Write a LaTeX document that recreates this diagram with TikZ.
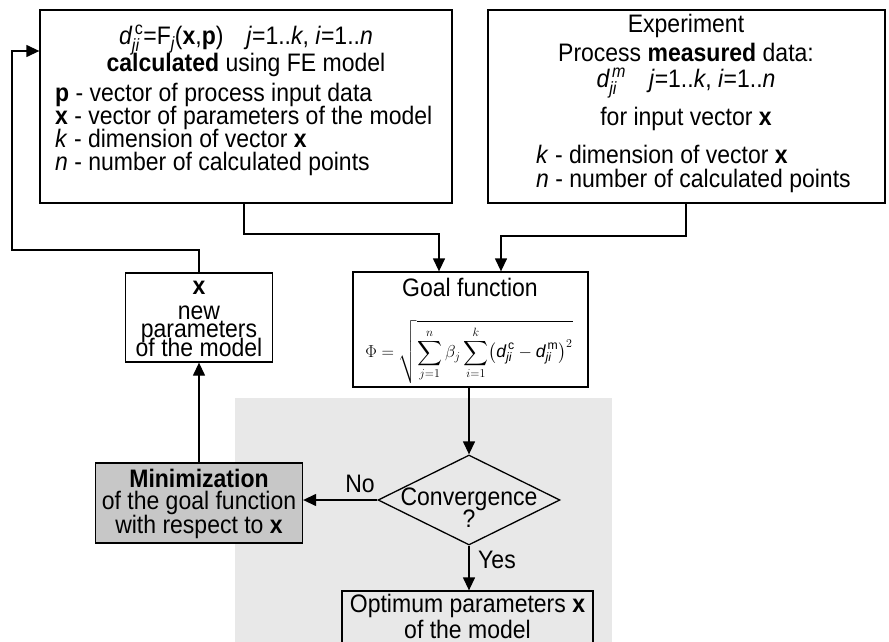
\documentclass[tikz,border=0pt]{standalone}
\usepackage{amsmath}
\usepackage{graphicx}
\usepackage{fontspec}
\setmainfont{Liberation Sans}
\usetikzlibrary{arrows.meta,shapes.geometric,calc}
\newcommand{\vs}[1]{\scalebox{1}[1.1]{#1}}
\begin{document}
\begin{tikzpicture}[x=1pt,y=-1pt,
  box/.style={draw, line width=1.3pt, rectangle, inner sep=0pt},
  conn/.style={line width=1.3pt, -{Triangle[length=13pt,width=12pt]}},
  txt/.style={inner sep=0pt, anchor=base, font=\fontsize{23}{22}\selectfont},
  ltxt/.style={txt, anchor=base west}]
\useasboundingbox (0,0) rectangle (889,642);
\clip (0,0) rectangle (889,642);
\fill[black!9] (235,398) rectangle (612,642);

% boxes
\node[box, minimum width=412pt, minimum height=193pt] (calc) at (246,106.5) {};
\node[box, minimum width=397pt, minimum height=193pt] (exp) at (686.5,106.5) {};
\node[box, minimum width=147pt, minimum height=89pt] (newp) at (199,317.5) {};
\node[box, minimum width=235pt, minimum height=115pt] (goal) at (470.5,329.5) {};
\node[draw, diamond, line width=1.3pt, minimum width=182pt, minimum height=90pt, inner sep=0pt] (conv) at (469,500) {};
\node[box, fill=black!22, minimum width=207pt, minimum height=80pt] (mini) at (199,503) {};
\node[box, minimum width=251pt, minimum height=56pt] (opt) at (467.5,619) {};

% texts of calc box
\node[txt] (cA) at (246,45) {\vs{$\textit{d}^{\,\mathrm{c}}_{\textit{ji}}$=F$_{\textit{j}}$(\textbf{x},\textbf{p})\quad \textit{j}=1..\textit{k}, \textit{i}=1..\textit{n}}};
\node[txt] (cB) at (246,72) {\vs{\textbf{calculated} using FE model}};
\node[ltxt] (cC) at (55,101) {\vs{\textbf{p} - vector of process input data}};
\node[ltxt] (cD) at (55,124) {\vs{\textbf{x} - vector of parameters of the model}};
\node[ltxt] (cE) at (55,147) {\vs{\textit{k} - dimension of vector \textbf{x}}};
\node[ltxt] (cF) at (55,170) {\vs{\textit{n} - number of calculated points}};

% texts of experiment box
\node[txt] (eA) at (686,33) {\vs{Experiment}};
\node[txt] (eB) at (686,62) {\vs{Process \textbf{measured} data:}};
\node[txt] (eC) at (686,88) {\vs{$\textit{d}^{\,\textit{m}}_{\textit{ji}}$\quad \textit{j}=1..\textit{k}, \textit{i}=1..\textit{n}}};
\node[txt] (eD) at (686,125) {\vs{for input vector \textbf{x}}};
\node[ltxt] (eE) at (536,163) {\vs{\textit{k} - dimension of vector \textbf{x}}};
\node[ltxt] (eF) at (536,187) {\vs{\textit{n} - number of calculated points}};

% new parameters
\node[txt] (nA) at (199,294) {\vs{\textbf{x}}};
\node[txt] (nB) at (199,319) {\vs{new}};
\node[txt] (nC) at (199,337) {\vs{parameters}};
\node[txt] (nD) at (199,356) {\vs{of the model}};

% goal
\node[txt] (gA) at (470,296) {\vs{Goal function}};
\node[inner sep=0pt, font=\fontsize{17.5}{20}\selectfont] (gB) at (469,352)
  {$\displaystyle \Phi=\sqrt{\sum_{j=1}^{n}\beta_j\sum_{i=1}^{k}\bigl(\textit{d}^{\,\mathrm{c}}_{\textit{ji}}-\textit{d}^{\,\mathrm{m}}_{\textit{ji}}\bigr)^2}$};

% diamond
\node[txt] (dA) at (469,505) {\vs{Convergence}};
\node[txt] (dB) at (469,527) {\vs{?}};
\node[txt] (lNo) at (360,492) {\vs{No}};
\node[txt] (lYes) at (497,568) {\vs{Yes}};

% minimization
\node[txt] (mA) at (199,487) {\vs{\textbf{Minimization}}};
\node[txt] (mB) at (199,509) {\vs{of the goal function}};
\node[txt] (mC) at (199,533) {\vs{with respect to \textbf{x}}};

% optimum
\node[txt] (oA) at (467.5,612) {\vs{Optimum parameters \textbf{x}}};
\node[txt] (oB) at (467.5,638) {\vs{of the model}};

% connectors
\coordinate (k1) at (244,234);
\coordinate (k2) at (439,234);
\draw[conn] (calc.south -| k1) -- (k1) -- (k2) -- (goal.north -| k2);
\coordinate (x1) at (686,236);
\coordinate (x2) at (501,236);
\draw[conn] (exp.south -| x1) -- (x1) -- (x2) -- (goal.north -| x2);
\coordinate (f1) at (199,250);
\coordinate (f2) at (12,250);
\coordinate (f3) at (12,51);
\draw[conn] (newp.north) -- (f1) -- (f2) -- (f3) -- (calc.west |- f3);
\draw[conn] (mini.north) -- (newp.south);
\draw[conn] (goal.south -| conv.north) -- (conv.north);
\draw[conn] (conv.west) -- (mini.east |- conv.west);
\draw[conn] (conv.south) -- (opt.north -| conv.south);
\end{tikzpicture}
\end{document}
